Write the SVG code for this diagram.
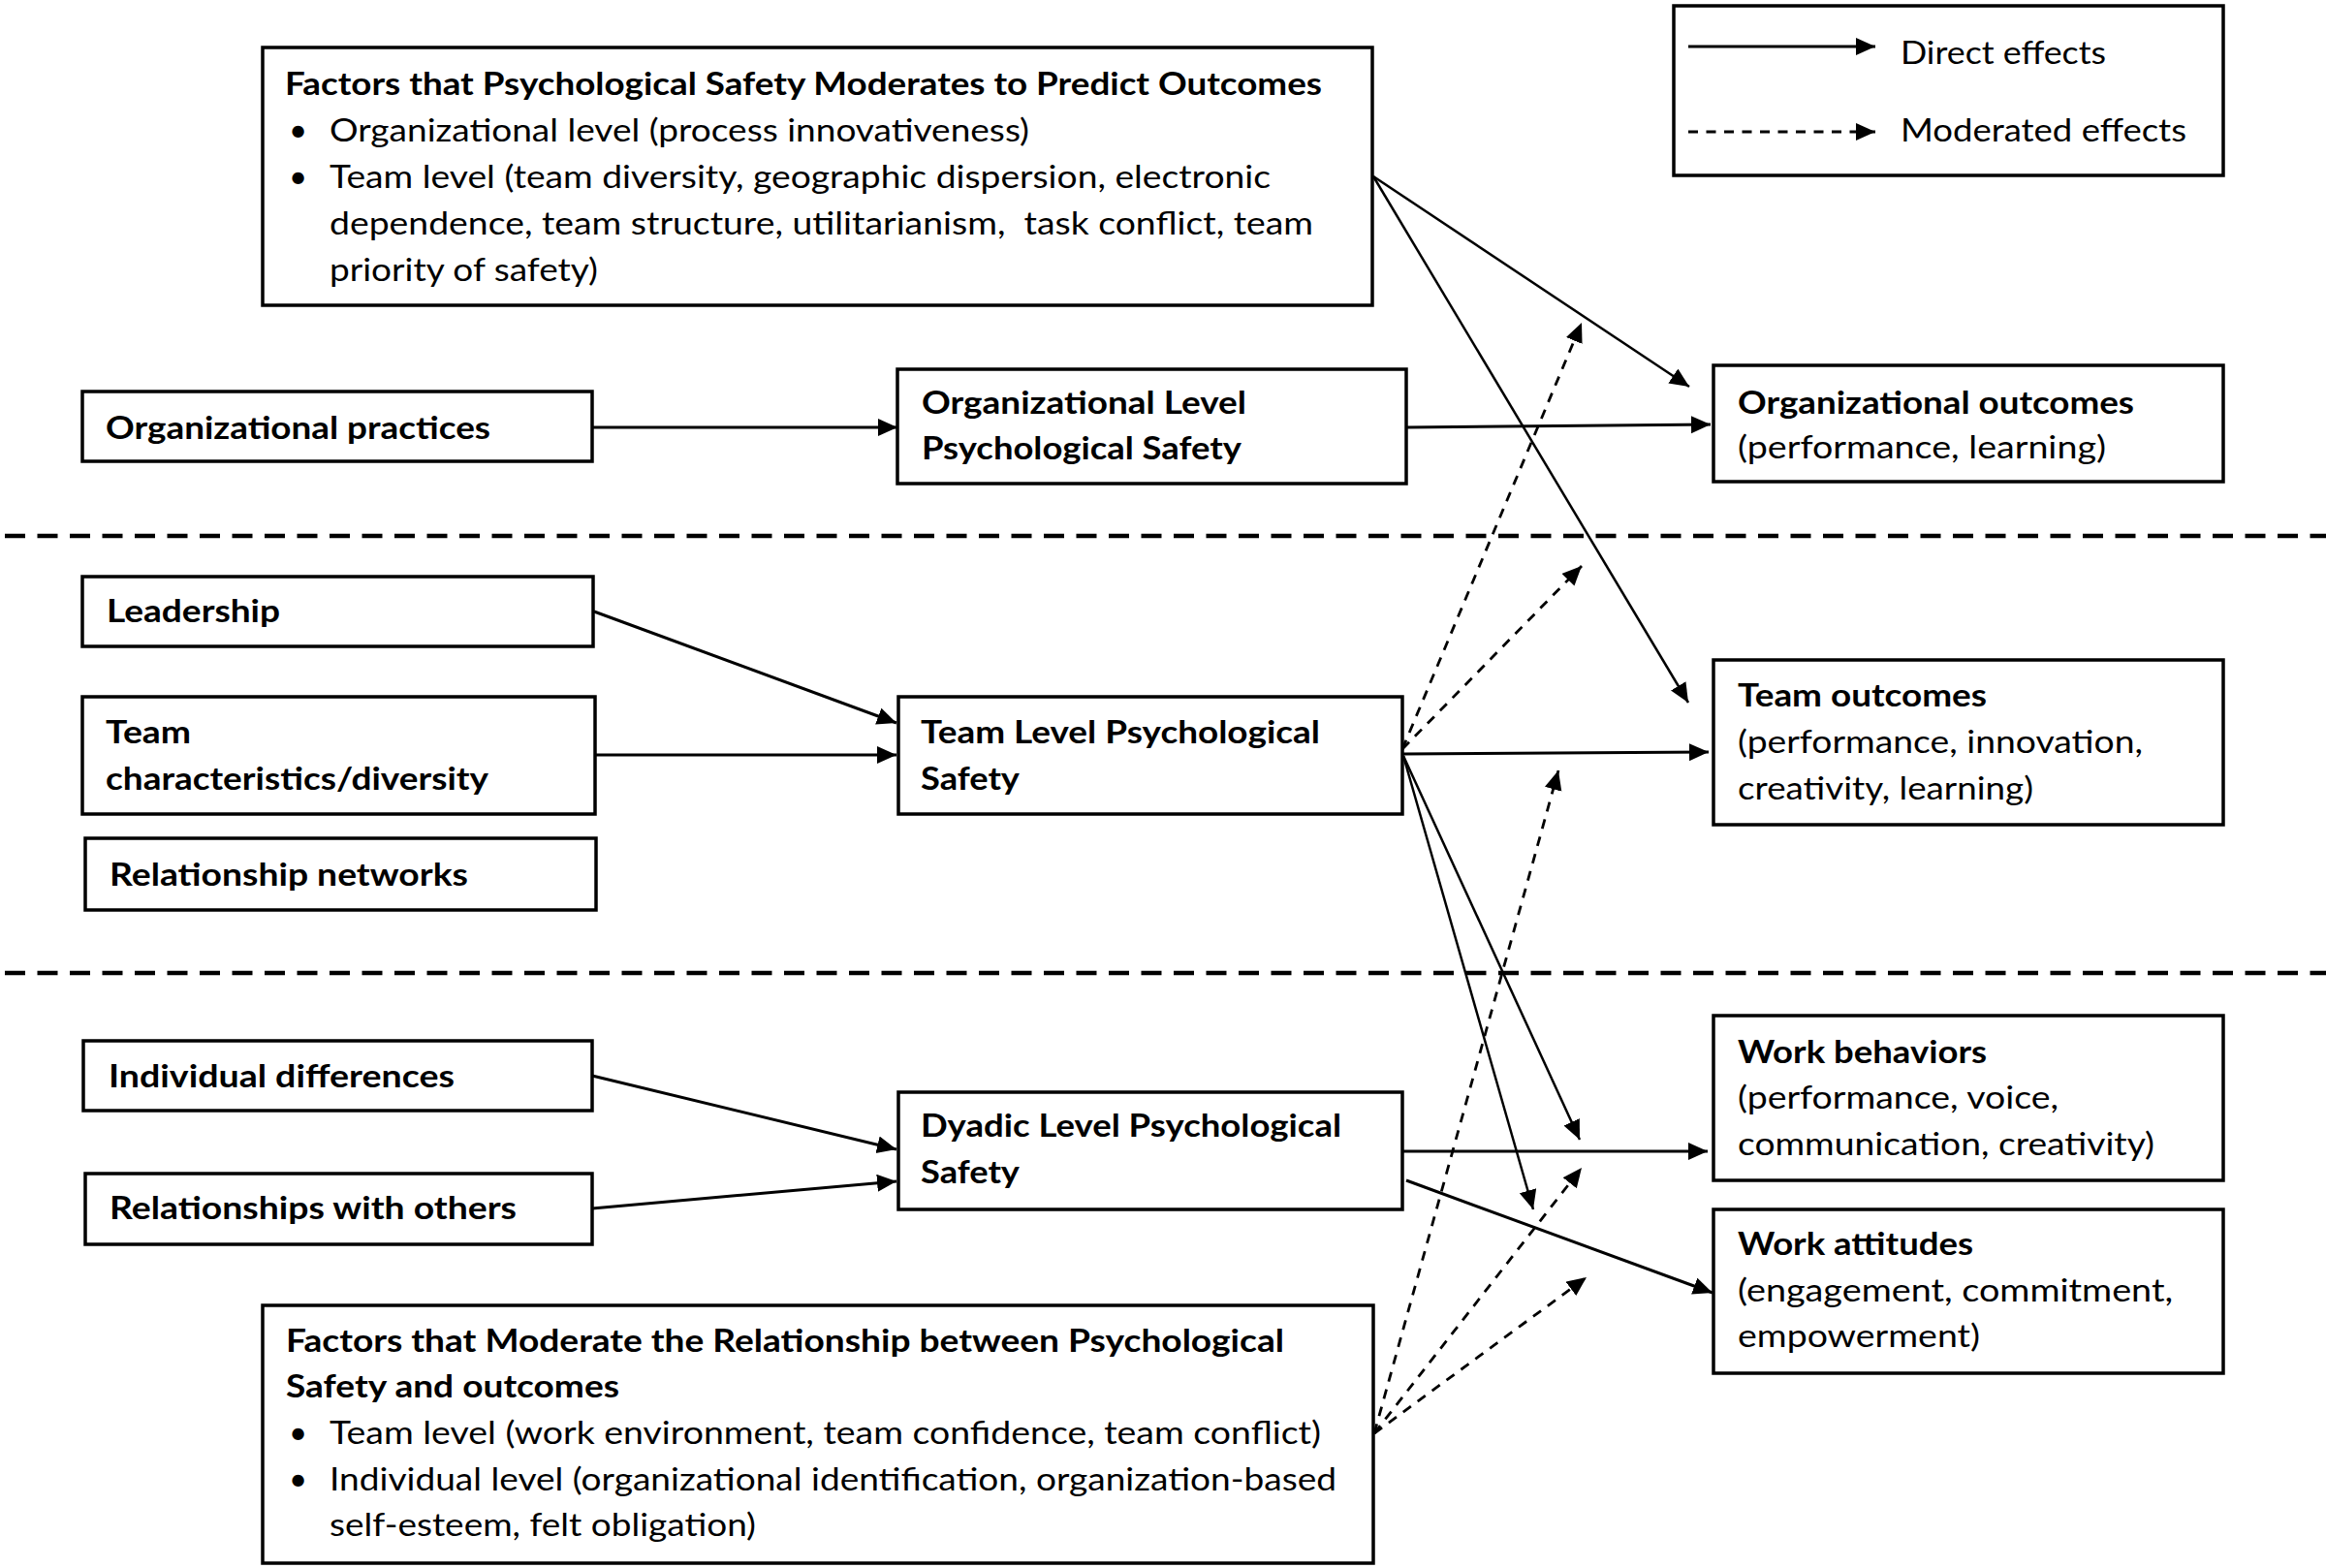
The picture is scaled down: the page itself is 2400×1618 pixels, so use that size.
<svg xmlns="http://www.w3.org/2000/svg" width="2400" height="1618" viewBox="0 0 2400 1618">
<style>
.box{fill:#fff;stroke:#000;stroke-width:3.5}
.t{font-family:Lato,"Liberation Sans",sans-serif;font-size:33px;fill:#000}
.b{font-weight:bold}
.c{fill:none;stroke:#000;stroke-width:3}
.thin{stroke-width:2.5}
.d{fill:none;stroke:#000;stroke-width:2.8;stroke-dasharray:10 8.5}
.sep{fill:none;stroke:#000;stroke-width:4.5;stroke-dasharray:21 12.5}
</style>
<defs>
<marker id="ah" markerUnits="userSpaceOnUse" markerWidth="22" markerHeight="20" refX="20" refY="9" orient="auto" viewBox="0 0 22 20">
<path d="M0,0 L20,9 L0,18 Z" fill="#000"/>
</marker>
</defs>
<rect width="2400" height="1618" fill="#fff"/>

<g id="separators">
<line class="sep" x1="5" y1="553" x2="2400" y2="553"/>
<line class="sep" x1="5" y1="1004" x2="2400" y2="1004"/>
</g>

<g id="connectors">
<line class="c" x1="611" y1="441" x2="926" y2="441" marker-end="url(#ah)"/>
<line class="c" x1="1451" y1="441" x2="1765" y2="438" marker-end="url(#ah)"/>
<line class="c thin" x1="1417" y1="182" x2="1743" y2="399" marker-end="url(#ah)"/>
<line class="c thin" x1="1417" y1="182" x2="1742" y2="725" marker-end="url(#ah)"/>
<line class="c" x1="613" y1="631" x2="925" y2="746" marker-end="url(#ah)"/>
<line class="c" x1="614" y1="779" x2="925" y2="779" marker-end="url(#ah)"/>
<line class="c" x1="1448" y1="778" x2="1763" y2="776" marker-end="url(#ah)"/>
<line class="c thin" x1="1448" y1="780" x2="1630" y2="1176" marker-end="url(#ah)"/>
<line class="c thin" x1="1448" y1="780" x2="1582" y2="1248" marker-end="url(#ah)"/>
<line class="c" x1="611" y1="1110" x2="925" y2="1186" marker-end="url(#ah)"/>
<line class="c" x1="611" y1="1247" x2="925" y2="1219" marker-end="url(#ah)"/>
<line class="c" x1="1447" y1="1188" x2="1762" y2="1188" marker-end="url(#ah)"/>
<line class="c" x1="1451" y1="1218" x2="1767" y2="1334" marker-end="url(#ah)"/>
<line class="d" x1="1447" y1="773" x2="1632" y2="333" marker-end="url(#ah)"/>
<line class="d" x1="1447" y1="773" x2="1632" y2="584" marker-end="url(#ah)"/>
<line class="d" x1="1418" y1="1479" x2="1608" y2="795" marker-end="url(#ah)"/>
<line class="d" x1="1418" y1="1479" x2="1632" y2="1205" marker-end="url(#ah)"/>
<line class="d" x1="1418" y1="1479" x2="1637" y2="1318" marker-end="url(#ah)"/>
</g>

<g id="legend">
<rect class="box" x="1727" y="6" width="567" height="175"/>
<line class="c" x1="1742" y1="48" x2="1935" y2="48" marker-end="url(#ah)"/>
<text class="t" x="1961" y="66" textLength="212" lengthAdjust="spacingAndGlyphs">Direct effects</text>
<line class="d" x1="1742" y1="136" x2="1935" y2="136" marker-end="url(#ah)"/>
<text class="t" x="1961" y="146" textLength="295" lengthAdjust="spacingAndGlyphs">Moderated effects</text>
</g>

<g id="moderators-top">
<rect class="box" x="271" y="49" width="1145" height="266"/>
<text class="t b" x="294" y="98" textLength="1070" lengthAdjust="spacingAndGlyphs">Factors that Psychological Safety Moderates to Predict Outcomes</text>
<text class="t" x="298" y="146">•</text>
<text class="t" x="340" y="146" textLength="722" lengthAdjust="spacingAndGlyphs">Organizational level (process innovativeness)</text>
<text class="t" x="298" y="194">•</text>
<text class="t" x="340" y="194" textLength="971" lengthAdjust="spacingAndGlyphs">Team level (team diversity, geographic dispersion, electronic</text>
<text class="t" x="340" y="242" textLength="1015" lengthAdjust="spacingAndGlyphs" xml:space="preserve">dependence, team structure, utilitarianism,  task conflict, team</text>
<text class="t" x="340" y="290" textLength="277" lengthAdjust="spacingAndGlyphs">priority of safety)</text>
</g>

<g id="org-practices">
<rect class="box" x="85" y="404" width="526" height="72"/>
<text class="t b" x="109" y="453" textLength="397" lengthAdjust="spacingAndGlyphs">Organizational practices</text>
</g>

<g id="org-ps">
<rect class="box" x="926" y="381" width="525" height="118"/>
<text class="t b" x="951" y="427" textLength="335" lengthAdjust="spacingAndGlyphs">Organizational Level</text>
<text class="t b" x="951" y="474" textLength="330" lengthAdjust="spacingAndGlyphs">Psychological Safety</text>
</g>

<g id="org-outcomes">
<rect class="box" x="1768" y="377" width="526" height="120"/>
<text class="t b" x="1793" y="427" textLength="409" lengthAdjust="spacingAndGlyphs">Organizational outcomes</text>
<text class="t" x="1793" y="473" textLength="380" lengthAdjust="spacingAndGlyphs">(performance, learning)</text>
</g>

<g id="leadership">
<rect class="box" x="85" y="595" width="527" height="72"/>
<text class="t b" x="110" y="642" textLength="179" lengthAdjust="spacingAndGlyphs">Leadership</text>
</g>

<g id="team-characteristics">
<rect class="box" x="85" y="719" width="529" height="121"/>
<text class="t b" x="109" y="767" textLength="88" lengthAdjust="spacingAndGlyphs">Team</text>
<text class="t b" x="109" y="815" textLength="395" lengthAdjust="spacingAndGlyphs">characteristics/diversity</text>
</g>

<g id="relationship-networks">
<rect class="box" x="88" y="865" width="527" height="74"/>
<text class="t b" x="113" y="914" textLength="370" lengthAdjust="spacingAndGlyphs">Relationship networks</text>
</g>

<g id="team-ps">
<rect class="box" x="927" y="719" width="520" height="121"/>
<text class="t b" x="950" y="767" textLength="412" lengthAdjust="spacingAndGlyphs">Team Level Psychological</text>
<text class="t b" x="950" y="815" textLength="102" lengthAdjust="spacingAndGlyphs">Safety</text>
</g>

<g id="team-outcomes">
<rect class="box" x="1768" y="681" width="526" height="170"/>
<text class="t b" x="1793" y="729" textLength="257" lengthAdjust="spacingAndGlyphs">Team outcomes</text>
<text class="t" x="1793" y="777" textLength="418" lengthAdjust="spacingAndGlyphs">(performance, innovation,</text>
<text class="t" x="1793" y="825" textLength="305" lengthAdjust="spacingAndGlyphs">creativity, learning)</text>
</g>

<g id="individual-differences">
<rect class="box" x="86" y="1074" width="525" height="72"/>
<text class="t b" x="112" y="1122" textLength="357" lengthAdjust="spacingAndGlyphs">Individual differences</text>
</g>

<g id="relationships-others">
<rect class="box" x="88" y="1211" width="523" height="73"/>
<text class="t b" x="113" y="1258" textLength="420" lengthAdjust="spacingAndGlyphs">Relationships with others</text>
</g>

<g id="dyadic-ps">
<rect class="box" x="927" y="1127" width="520" height="121"/>
<text class="t b" x="950" y="1173" textLength="434" lengthAdjust="spacingAndGlyphs">Dyadic Level Psychological</text>
<text class="t b" x="950" y="1221" textLength="102" lengthAdjust="spacingAndGlyphs">Safety</text>
</g>

<g id="work-behaviors">
<rect class="box" x="1768" y="1048" width="526" height="170"/>
<text class="t b" x="1793" y="1097" textLength="257" lengthAdjust="spacingAndGlyphs">Work behaviors</text>
<text class="t" x="1793" y="1144" textLength="331" lengthAdjust="spacingAndGlyphs">(performance, voice,</text>
<text class="t" x="1793" y="1192" textLength="430" lengthAdjust="spacingAndGlyphs">communication, creativity)</text>
</g>

<g id="work-attitudes">
<rect class="box" x="1768" y="1248" width="526" height="169"/>
<text class="t b" x="1793" y="1295" textLength="243" lengthAdjust="spacingAndGlyphs">Work attitudes</text>
<text class="t" x="1793" y="1343" textLength="449" lengthAdjust="spacingAndGlyphs">(engagement, commitment,</text>
<text class="t" x="1793" y="1390" textLength="250" lengthAdjust="spacingAndGlyphs">empowerment)</text>
</g>

<g id="moderators-bottom">
<rect class="box" x="271" y="1347" width="1146" height="266"/>
<text class="t b" x="295" y="1395" textLength="1030" lengthAdjust="spacingAndGlyphs">Factors that Moderate the Relationship between Psychological</text>
<text class="t b" x="295" y="1442" textLength="344" lengthAdjust="spacingAndGlyphs">Safety and outcomes</text>
<text class="t" x="298" y="1490">•</text>
<text class="t" x="340" y="1490" textLength="1023" lengthAdjust="spacingAndGlyphs">Team level (work environment, team confidence, team conflict)</text>
<text class="t" x="298" y="1538">•</text>
<text class="t" x="340" y="1538" textLength="1039" lengthAdjust="spacingAndGlyphs">Individual level (organizational identification, organization-based</text>
<text class="t" x="340" y="1585" textLength="440" lengthAdjust="spacingAndGlyphs">self-esteem, felt obligation)</text>
</g>
</svg>
